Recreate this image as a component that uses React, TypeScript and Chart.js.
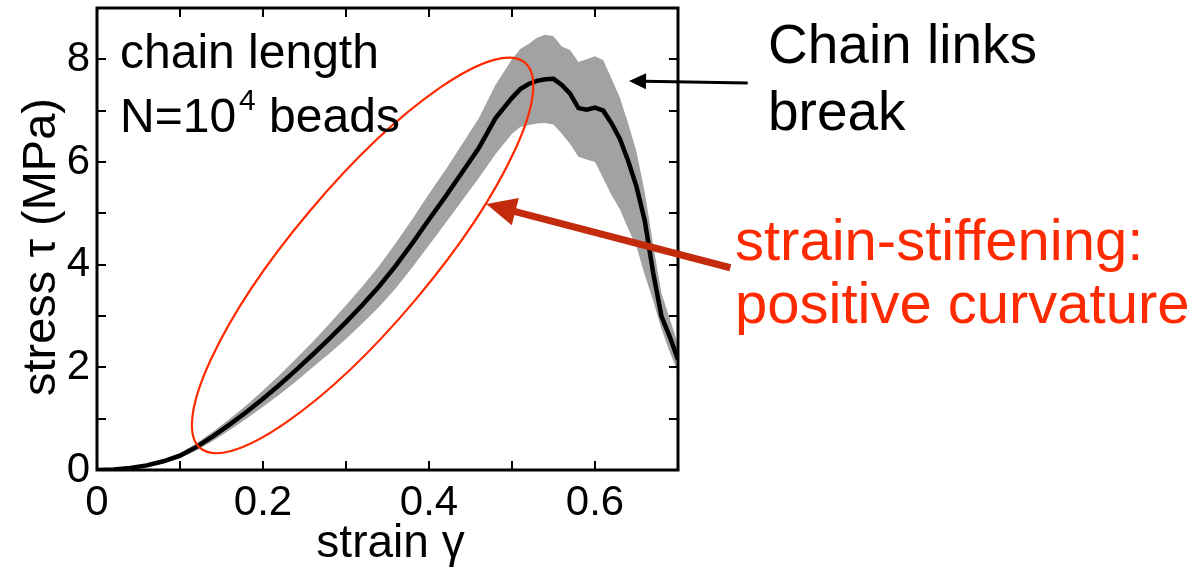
import React, { useEffect, useRef } from "react";
import { Chart, registerables } from "chart.js";

Chart.register(...registerables);

// ---- data ----
const strain = [
  0, 0.02, 0.04, 0.06, 0.08, 0.1, 0.12, 0.14, 0.16, 0.18, 0.2, 0.22, 0.24, 0.26, 0.28, 0.3,
  0.32, 0.34, 0.36, 0.38, 0.4, 0.42, 0.44, 0.46, 0.48, 0.5, 0.51, 0.52, 0.53, 0.54, 0.55,
  0.56, 0.57, 0.58, 0.59, 0.6, 0.61, 0.62, 0.63, 0.64, 0.65, 0.66, 0.67, 0.68, 0.69, 0.7,
];
const meanStress = [
  0, 0.01, 0.04, 0.09, 0.17, 0.28, 0.45, 0.66, 0.89, 1.13, 1.39, 1.66, 1.95, 2.25, 2.56, 2.88,
  3.22, 3.58, 3.98, 4.42, 4.88, 5.33, 5.8, 6.27, 6.85, 7.25, 7.42, 7.52, 7.58, 7.61, 7.62,
  7.5, 7.33, 7.05, 7.02, 7.06, 7.0, 6.75, 6.45, 6.02, 5.52, 4.85, 3.85, 3.0, 2.6, 2.15,
];
const upperStress = [
  0, 0.02, 0.06, 0.12, 0.21, 0.33, 0.52, 0.75, 1.0, 1.26, 1.55, 1.85, 2.17, 2.5, 2.85, 3.21,
  3.58, 3.98, 4.42, 4.89, 5.38, 5.85, 6.35, 6.85, 7.5, 8.0, 8.2, 8.3, 8.42, 8.48, 8.45,
  8.25, 8.18, 7.95, 8.0, 8.06, 7.98, 7.62, 7.25, 6.75, 6.2, 5.4, 4.4, 3.45, 2.95, 2.45,
];
const lowerStress = [
  0, 0.0, 0.02, 0.06, 0.13, 0.23, 0.38, 0.57, 0.78, 1.0, 1.23, 1.47, 1.73, 2.0, 2.27, 2.55,
  2.86, 3.18, 3.54, 3.95, 4.38, 4.81, 5.25, 5.69, 6.15, 6.55, 6.68, 6.72, 6.75, 6.76, 6.73,
  6.55, 6.35, 6.1, 6.05, 6.0, 5.68, 5.35, 5.08, 4.7, 4.35, 3.8, 3.3, 2.75, 2.3, 1.9,
];
const xTickLabels = ["0", "0.2", "0.4", "0.6"];
const yTickLabels = ["0", "2", "4", "6", "8"];

const FONT = '"Liberation Sans", Arial, Helvetica, sans-serif';

function labelFor(list: string[], value: number) {
  const hit = list.find((l) => Math.abs(parseFloat(l) - value) < 1e-6);
  return hit === undefined ? "" : hit;
}

function drawArrow(
  ctx: CanvasRenderingContext2D,
  x1: number, y1: number, x2: number, y2: number,
  lw: number, headLen: number, headHalf: number, color: string
) {
  const dx = x2 - x1, dy = y2 - y1;
  const len = Math.hypot(dx, dy);
  const ux = dx / len, uy = dy / len;
  const bx = x2 - ux * headLen, by = y2 - uy * headLen;
  ctx.strokeStyle = color;
  ctx.fillStyle = color;
  ctx.lineWidth = lw;
  ctx.lineCap = "butt";
  ctx.beginPath();
  ctx.moveTo(x1, y1);
  ctx.lineTo(bx + ux * 2, by + uy * 2);
  ctx.stroke();
  ctx.beginPath();
  ctx.moveTo(x2, y2);
  ctx.lineTo(bx - uy * headHalf, by + ux * headHalf);
  ctx.lineTo(bx + uy * headHalf, by - ux * headHalf);
  ctx.closePath();
  ctx.fill();
}

const overlayPlugin = {
  id: "overlay",
  afterDatasetsDraw(chart: any) {
    const { ctx, chartArea: ca, scales } = chart;
    const xs = scales.x, ys = scales.y;
    const X = (v: number) => xs.getPixelForValue(v);
    const Y = (v: number) => ys.getPixelForValue(v);
    ctx.save();

    // inward ticks on all four sides
    ctx.strokeStyle = "#000";
    ctx.lineWidth = 2;
    const tl = 9;
    ctx.beginPath();
    xs.ticks.forEach((t: any) => {
      if (t.value <= xs.min + 1e-9 || t.value >= xs.max - 1e-9) return;
      const p = Math.round(X(t.value));
      ctx.moveTo(p, ca.bottom);
      ctx.lineTo(p, ca.bottom - tl);
      ctx.moveTo(p, ca.top);
      ctx.lineTo(p, ca.top + tl);
    });
    ys.ticks.forEach((t: any) => {
      if (t.value <= ys.min + 1e-9 || t.value >= ys.max - 1e-9) return;
      const p = Math.round(Y(t.value));
      ctx.moveTo(ca.left, p);
      ctx.lineTo(ca.left + tl, p);
      ctx.moveTo(ca.right, p);
      ctx.lineTo(ca.right - tl, p);
    });
    ctx.stroke();

    // frame
    ctx.lineWidth = 3;
    ctx.strokeRect(ca.left, ca.top, ca.right - ca.left, ca.bottom - ca.top);

    // red ellipse around the stiffening region
    ctx.beginPath();
    ctx.ellipse(X(0.32), Y(4.18), 252, 69, (-49.9 * Math.PI) / 180, 0, Math.PI * 2);
    ctx.strokeStyle = "#ff2a00";
    ctx.lineWidth = 2.2;
    ctx.stroke();

    // arrows
    drawArrow(ctx, X(0.784), Y(7.54), X(0.641), Y(7.58), 3, 17, 8, "#000");
    drawArrow(ctx, X(0.763), Y(3.94), X(0.469), Y(5.18), 7, 30, 14, "#c42a0c");

    // annotation texts
    ctx.textAlign = "left";
    ctx.textBaseline = "alphabetic";
    ctx.fillStyle = "#000";
    ctx.font = `48px ${FONT}`;
    ctx.fillText("chain length", 120, 68);
    ctx.fillText("N=10", 120, 132);
    const w1 = ctx.measureText("N=10").width;
    ctx.font = `30px ${FONT}`;
    ctx.fillText("4", 120 + w1 + 3, 110);
    const w2 = ctx.measureText("4").width;
    ctx.font = `48px ${FONT}`;
    ctx.fillText(" beads", 120 + w1 + 3 + w2, 132);

    ctx.font = `55px ${FONT}`;
    ctx.fillText("Chain links", 768, 63);
    ctx.fillText("break", 768, 130);

    ctx.fillStyle = "#ff2a00";
    ctx.font = `58px ${FONT}`;
    ctx.fillText("strain-stiffening:", 735, 260);
    ctx.fillText("positive curvature", 735, 323);

    // axis titles
    ctx.fillStyle = "#000";
    ctx.font = `46px ${FONT}`;
    ctx.textAlign = "center";
    ctx.fillText("strain \u03b3", (ca.left + ca.right) / 2 + 3, 557);
    ctx.save();
    ctx.translate(55, 247);
    ctx.rotate(-Math.PI / 2);
    ctx.font = `47px ${FONT}`;
    ctx.fillText("stress \u03c4 (MPa)", 0, 0);
    ctx.restore();

    ctx.restore();
  },
};

export default function App() {
  const ref = useRef<HTMLCanvasElement | null>(null);

  useEffect(() => {
    if (!ref.current) return;
    const pts = (arr: number[]) => strain.map((x, i) => ({ x, y: arr[i] }));
    const chart = new Chart(ref.current, {
      type: "line",
      data: {
        datasets: [
          {
            label: "upper",
            data: pts(upperStress),
            borderWidth: 0,
            pointRadius: 0,
            fill: "+1",
            backgroundColor: "#a2a2a2",
            borderColor: "rgba(0,0,0,0)",
            tension: 0,
            order: 2,
          },
          {
            label: "lower",
            data: pts(lowerStress),
            borderWidth: 0,
            pointRadius: 0,
            fill: false,
            borderColor: "rgba(0,0,0,0)",
            tension: 0,
            order: 1,
          },
          {
            label: "mean",
            data: pts(meanStress),
            borderWidth: 4.5,
            pointRadius: 0,
            fill: false,
            borderColor: "#000",
            tension: 0,
            order: 0,
          },
        ],
      },
      options: {
        animation: false,
        responsive: false,
        devicePixelRatio: 1,
        layout: { padding: { left: 0, right: 520, top: 8, bottom: 0 } },
        plugins: { legend: { display: false }, tooltip: { enabled: false } },
        events: [],
        scales: {
          x: {
            type: "linear",
            min: 0,
            max: 0.7,
            grid: { display: false, drawTicks: false },
            border: { display: false },
            ticks: {
              stepSize: 0.1,
              autoSkip: false,
              maxRotation: 0,
              padding: 8,
              color: "#000",
              font: { family: FONT, size: 42 },
              callback: (v: any) => labelFor(xTickLabels, Number(v)),
            },
            afterFit: (s: any) => {
              s.height = 101;
              s.paddingLeft = 0;
              s.paddingRight = 0;
            },
          },
          y: {
            type: "linear",
            min: 0,
            max: 9,
            grid: { display: false, drawTicks: false },
            border: { display: false },
            ticks: {
              stepSize: 1,
              autoSkip: false,
              padding: 7,
              color: "#000",
              font: { family: FONT, size: 42 },
              callback: (v: any) => labelFor(yTickLabels, Number(v)),
            },
            afterFit: (s: any) => {
              s.width = 97;
              s.paddingTop = 0;
              s.paddingBottom = 0;
            },
          },
        },
      },
      plugins: [overlayPlugin],
    });
    return () => chart.destroy();
  }, []);

  return (
    <div style={{ position: "absolute", left: 0, top: 0, width: 1198, height: 571, background: "#fff" }}>
      <canvas ref={ref} width={1198} height={571} style={{ display: "block" }} />
    </div>
  );
}
